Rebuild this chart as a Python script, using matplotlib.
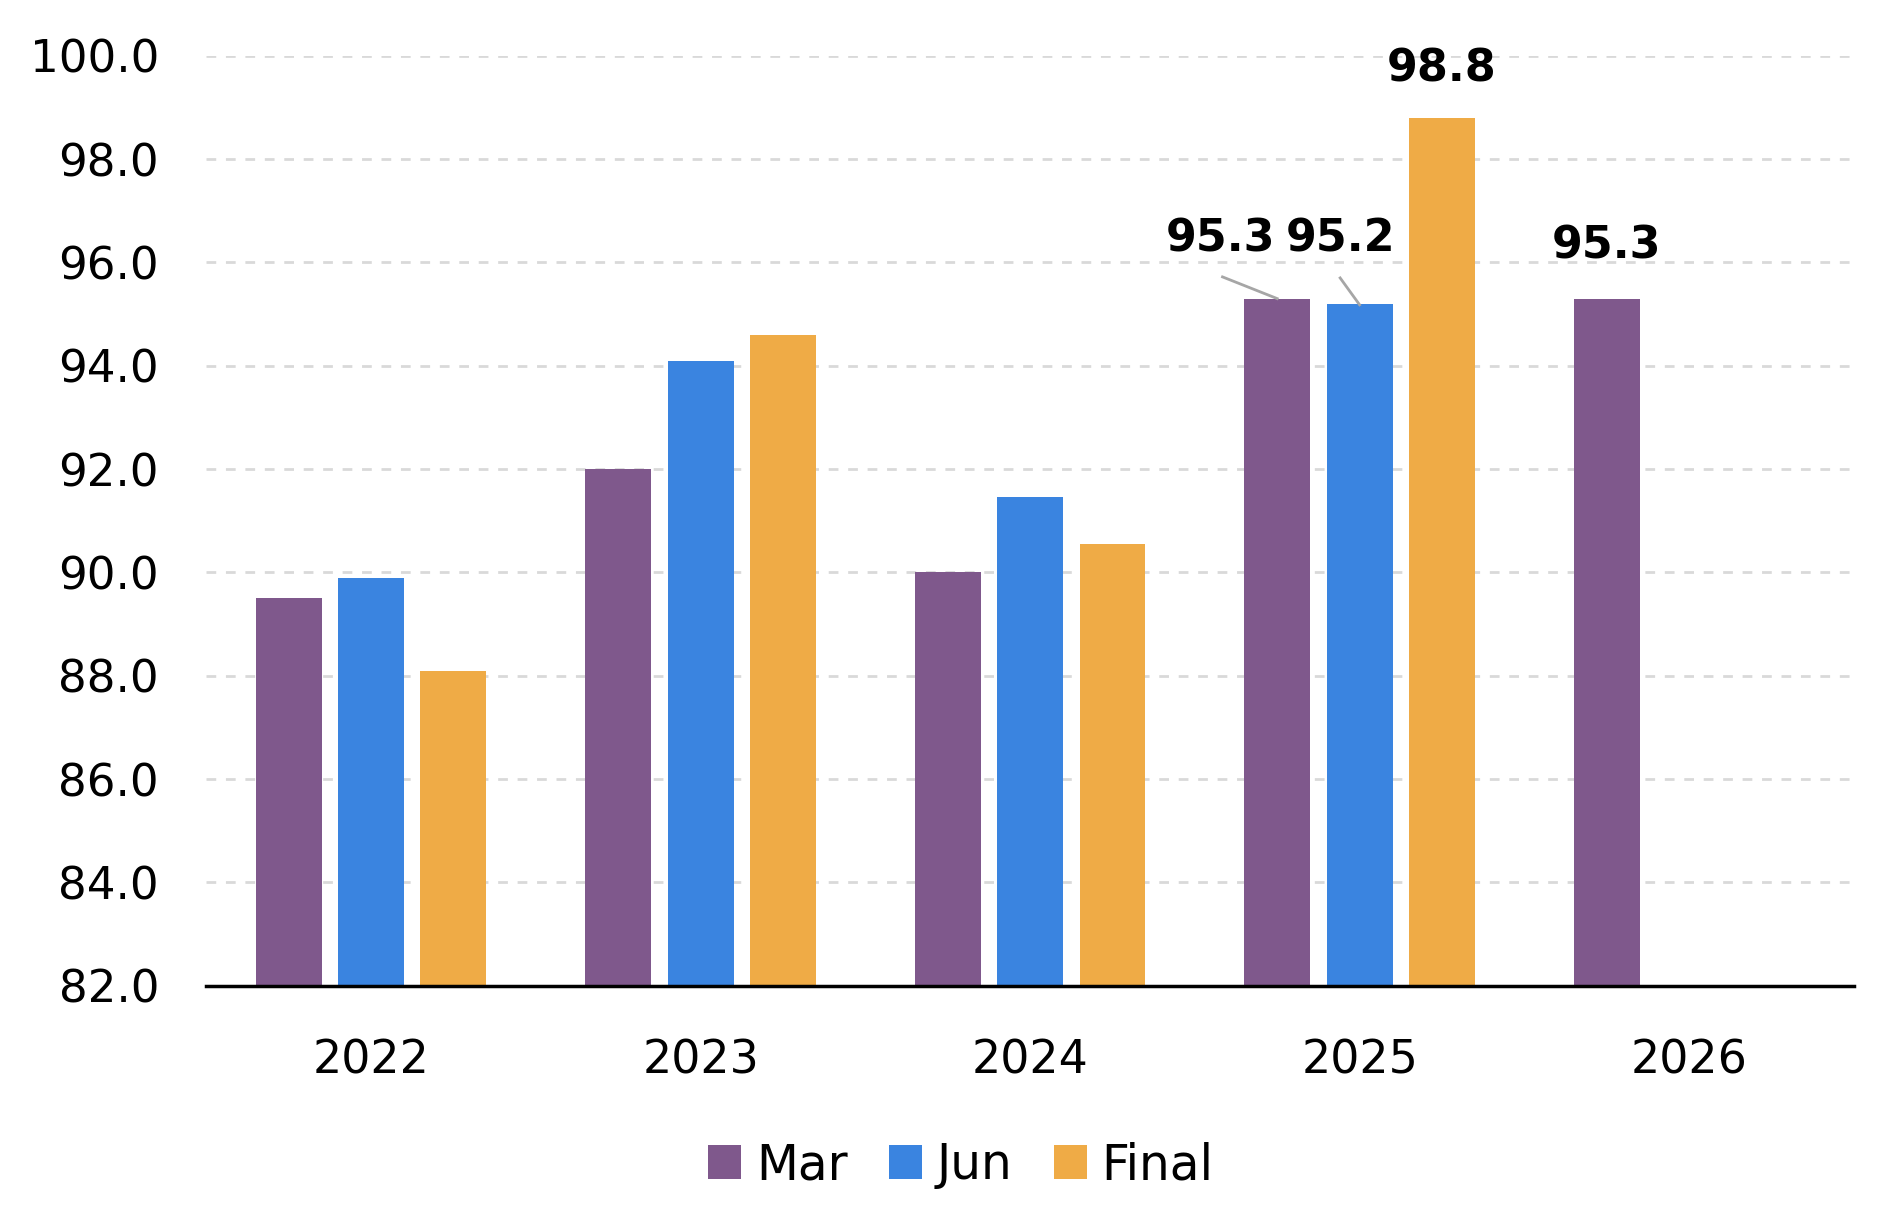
import numpy as np
import matplotlib
matplotlib.use("Agg")
import matplotlib.pyplot as plt

# data
years = ["2022", "2023", "2024", "2025", "2026"]
series = ["Mar", "Jun", "Final"]
mar = [89.5, 92.0, 90.0, 95.3, 95.3]
jun = [89.9, 94.1, 91.45, 95.2, np.nan]
final = [88.1, 94.6, 90.55, 98.8, np.nan]
colors = ["#7F588C", "#3A84E0", "#EFAB46"]

plt.rcParams['font.family'] = ['DejaVu Sans']

fig = plt.figure(figsize=(18.84, 12.29), dpi=100)
ax = fig.add_axes([0.1095, 0.198, 0.8745, 0.7566])

x = np.arange(len(years))
w = 0.2
offs = [-0.25, 0, 0.25]
for vals, off, c, name in zip([mar, jun, final], offs, colors, series):
	ax.bar(x + off, vals, width=w, color=c, label=name, zorder=3, bottom=0)

ax.set_ylim(82, 100)
ax.set_xlim(-0.5, 4.5)
ax.set_yticks(np.arange(82, 100.1, 2))
ax.set_yticklabels(["%.1f" % v for v in np.arange(82, 100.1, 2)])
ax.set_xticks(x)
ax.set_xticklabels(years)
ax.tick_params(axis='y', length=0, pad=34, labelsize=32.5)
ax.tick_params(axis='x', length=0, pad=38, labelsize=33)

ax.yaxis.grid(True, color="#d9d9d9", linestyle=(0, (3.5, 3.5)), linewidth=2, zorder=0)
for s in ["top", "right", "left"]:
	ax.spines[s].set_visible(False)
ax.spines["bottom"].set_linewidth(2.5)
ax.spines["bottom"].set_zorder(4)

# value labels
lab_kw = dict(fontsize=32, fontweight='bold', ha='center', va='center', zorder=5)
ax.text(2.577, 96.45, "95.3", **lab_kw)
ax.text(2.941, 96.45, "95.2", **lab_kw)
ax.text(3.25, 99.74, "98.8", **lab_kw)
ax.text(3.75, 96.31, "95.3", **lab_kw)
ax.plot([2.584, 2.75], [95.72, 95.30], color="#a6a6a6", lw=2, zorder=5)
ax.plot([2.941, 3.0], [95.70, 95.18], color="#a6a6a6", lw=2, zorder=5)

fig.legend(loc='center', bbox_to_anchor=(0.51, 0.052), ncol=3, frameon=False,
	fontsize=35, handlelength=0.68, handleheight=0.68, handletextpad=0.3, columnspacing=0.85)

fig.savefig("out.png", dpi=100)
